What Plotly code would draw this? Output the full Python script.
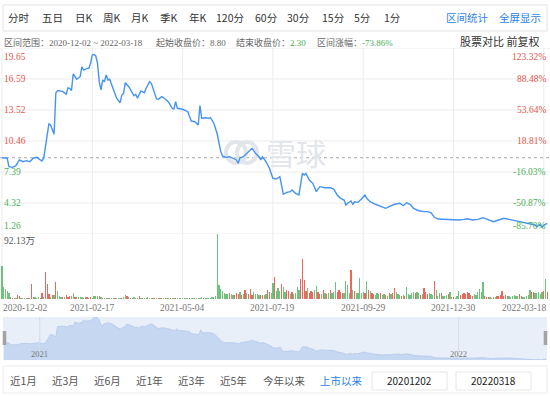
import plotly.graph_objects as go

W, H = 550, 396

# ---------------- data ----------------
close_day = [0, 3, 4, 6, 8, 10, 12, 14, 16, 18, 20, 22, 23, 24, 26, 27, 28, 29, 30, 31,
             32, 33, 35, 37, 38, 39, 40, 41, 43, 45, 46, 47, 49, 50, 51, 52, 53, 54, 55, 56,
             57, 58, 59, 60, 61, 62, 64, 66, 68, 69, 70, 71, 73, 75, 76, 77, 78, 80, 82, 83,
             85, 86, 89, 90, 92, 94, 96, 98, 99, 100, 101, 104, 105, 107, 109, 111, 113, 114, 115, 117,
             119, 120, 122, 124, 125, 126, 127, 129, 131, 133, 135, 136, 137, 139, 141, 143, 144, 146, 148, 149,
             150, 152, 153, 154, 156, 158, 160, 161, 162, 164, 166, 167, 169, 171, 172, 173, 174, 175, 177, 179,
             181, 183, 186, 189, 191, 193, 195, 197, 198, 199, 201, 202, 203, 205, 207, 209, 210, 212, 215, 218,
             221, 223, 226, 229, 231, 233, 235, 237, 240, 243, 245, 247, 249, 251, 255, 259, 263, 266, 268, 271,
             274, 277, 280, 283, 286, 289, 292, 294, 297, 300, 303, 305, 307, 308, 310, 311, 312, 314]
close_val = [8.80, 8.75, 7.91, 7.85, 8.01, 8.58, 8.41, 8.51, 8.41, 8.75, 8.84, 8.58, 8.48, 8.75, 11.22, 12.14, 12.04, 11.60, 11.12, 15.20,
             15.43, 15.43, 15.33, 15.10, 15.72, 15.67, 15.43, 17.08, 16.56, 16.81, 17.80, 17.47, 17.64, 17.64, 18.14, 18.96, 19.00, 18.86, 18.14, 16.32,
             15.50, 16.49, 16.32, 16.98, 16.49, 16.56, 15.67, 14.68, 14.24, 15.00, 15.17, 16.22, 15.82, 15.17, 14.93, 15.07, 14.68, 15.40, 15.23, 15.67,
             16.32, 16.16, 14.61, 14.58, 14.84, 14.61, 14.28, 13.69, 13.62, 14.34, 13.69, 13.59, 13.52, 13.35, 12.43, 12.36, 12.04, 13.95, 12.70, 12.76,
             12.70, 12.76, 12.21, 11.12, 10.23, 9.40, 8.97, 8.84, 8.90, 8.75, 8.58, 8.25, 8.80, 8.90, 9.24, 9.63, 9.73, 9.24, 8.90, 8.58,
             8.90, 8.41, 8.08, 7.76, 6.77, 6.70, 6.93, 5.94, 5.19, 5.38, 5.44, 5.61, 5.28, 5.12, 6.10, 7.26, 7.09, 7.26, 6.60, 6.27,
             5.44, 5.94, 5.84, 5.84, 5.71, 5.12, 4.79, 4.62, 4.13, 4.30, 4.52, 4.20, 4.45, 4.39, 4.72, 5.12, 4.79, 4.45, 4.20, 3.96,
             3.80, 3.96, 4.20, 4.30, 4.06, 4.35, 4.20, 3.80, 3.56, 3.47, 3.47, 3.37, 2.91, 2.74, 2.71, 2.64, 2.64, 2.71, 2.77, 2.64,
             2.71, 2.87, 2.64, 2.48, 2.64, 2.81, 2.71, 2.64, 2.48, 2.38, 2.32, 2.22, 2.15, 1.98, 2.22, 1.92, 2.15, 2.30]

# volume in 万 per trading day, with direction (r = up, g = down)
vol = [47, 17, 14, 12, 8.5, 3.8, 2.4, 2.4, 2, 5.7, 4.7, 2, 2, 2, 2, 2.5, 2, 21, 3.8, 3.8,
       2, 3.8, 2, 8.5, 3.8, 39, 22, 7.5, 3.8, 6, 6, 25, 12, 4.7, 3.5, 3.5, 3.3, 6, 3.8, 5.2,
       4.7, 8.5, 3.8, 3.5, 3, 3.8, 3, 2.5, 3.8, 3, 2.5, 3.8, 2.5, 4.2, 4.7, 4.2, 4, 3.5, 2.5, 2.5,
       2.5, 2, 2, 2.5, 2, 2.5, 2, 2.5, 2, 2.4, 3.8, 5.7, 4.7, 3, 2.5, 2.5, 3.8, 2.5, 2, 4.2,
       2.5, 2, 2, 2.5, 3.3, 2, 2, 2, 2, 2.5, 2, 2, 2, 2, 2, 2, 2, 2, 2, 2,
       2, 2, 2, 2, 2, 1.5, 1.5, 2, 1.5, 2, 1.5, 2, 2, 2, 2.5, 3.8, 2, 2, 2, 2,
       2.5, 3, 3.8, 5.2, 92.13, 20, 14, 12, 9.5, 8, 7.5, 8.5, 7.5, 6, 6, 8.5, 7, 11, 6, 7,
       13, 8.5, 7, 14, 6, 10, 7.5, 7, 6, 6, 5.7, 6, 7, 13, 10, 9, 23, 31, 12, 16,
       12, 21, 18, 10, 13, 12, 7.5, 11, 8, 8.5, 17, 13, 29, 57, 27, 12, 15.6, 8.5, 12, 10,
       13, 19, 11, 8, 7, 13, 8.5, 7, 9, 13, 9.5, 11, 25, 10, 13, 11, 8.5, 9, 26, 20,
       8.5, 42, 13, 12, 9, 8.5, 30, 8.5, 11, 9, 26, 13, 12, 9, 7.5, 6, 9.5, 8, 8.5, 6,
       7.5, 6, 5.2, 8.5, 7.5, 9.5, 15.6, 11, 7, 6, 5.2, 6, 5.2, 18, 7.5, 6, 8.5, 11, 9.5, 10,
       8.5, 6, 7, 16.5, 11, 7.5, 8.5, 7.5, 6, 26, 13, 5.2, 9.5, 8.5, 5.2, 5, 6, 7.5, 10, 3.8,
       3.8, 2.4, 4, 11.8, 6, 7.5, 8.5, 7, 10, 8.5, 6, 5.2, 7, 6, 10, 14.6, 10.8, 25, 4.7, 3.8,
       3.3, 3, 2.4, 3.3, 3.8, 4, 5.2, 6, 11.8, 5.2, 6, 5, 4.7, 3.8, 4.7, 6, 5, 5.2, 7, 5.2,
       3.8, 3.8, 5.2, 6, 13, 11, 10, 8.5, 9.5, 10, 8, 11, 11.8, 28, 11]
vol_dir = ("gggggrrggrrgrggrgrrg" "ggrrgrrrgrgrgggrgrrr" "ggrggggrgrrrggggrgrg"
           "ggrggrgggrggrgrrggrr" "grgrgggrgrgrggrggrgg" "rggrggggrgggrgggrrgg"
           "gggggggggggrggrrrgrg" "rgrrrggggrrggrrggrgg" "grggrrgrggggrrrrgrrr"
           "ggrrgrgrgrggg" "rrrrggggrg" "rgggggrgrgrrgggrggrg"
           "rgrrgggrgrgggggrggrg" "rrrgggrgggrgggrggrgg" "grrrrrrrrggggggrrrgg"
           "ggrrrrrrrggggggrrggg" "ggrrgggggrgrgrg")

date_ticks = ['2020-12-02', '2021-02-17', '2021-05-04', '2021-07-19', '2021-09-29', '2021-12-30', '2022-03-18']
tick_day = [0, 52, 104, 156, 208, 260, 312]
price_ticks = [19.65, 16.59, 13.52, 10.46, 7.39, 4.32, 1.26]
pct_ticks = ['123.32%', '88.48%', '53.64%', '18.81%', '-16.03%', '-50.87%', '-85.70%']
start_close = 8.80
end_close = 2.30
change_pct = '-73.86%'
vol_max = 92.13
nav_years = ['2021', '2022']
nav_year_day = [20.7, 263.4]
periods = ['分时', '五日', '日K', '周K', '月K', '季K', '年K', '120分', '60分', '30分', '15分', '5分', '1分']
ranges = ['近1月', '近3月', '近6月', '近1年', '近3年', '近5年', '今年以来', '上市以来']

# ---------------- styles ----------------
RED = '#e4574c'
GREEN = '#4caf5a'
BLUE = '#2a7fe6'
LINE = '#4593f4'
GRID = '#ececec'
SERIF = 'Liberation Serif, Noto Sans CJK SC'
SANS = 'Noto Sans CJK SC, Noto Sans, sans-serif'

def py(y):
    return 1 - y / H

def ann(text, x, y, size, color, family=SANS, xanchor='left', yanchor='middle'):
    return dict(text=text, x=x / W, y=py(y), xref='paper', yref='paper', showarrow=False,
                font=dict(size=size, color=color, family=family), xanchor=xanchor, yanchor=yanchor,
                borderpad=0)

n = len(vol)
vcol = ['rgba(236,90,78,0.92)' if vol_dir[i] == 'r' else 'rgba(96,190,112,0.92)' for i in range(n)]

fig = go.Figure()
fig.add_trace(go.Bar(x=list(range(n)), y=vol, marker=dict(color=vcol, line=dict(width=0)),
                     width=0.72, xaxis='x', yaxis='y2', hoverinfo='skip'))
fig.add_trace(go.Scatter(x=close_day, y=close_val, mode='lines', line=dict(color=LINE, width=1.4),
                         xaxis='x', yaxis='y', hoverinfo='skip'))
fig.add_trace(go.Scatter(x=close_day, y=close_val, mode='lines', fill='tozeroy',
                         fillcolor='rgba(196,213,240,0.95)', line=dict(color='#b4c8e8', width=0.8),
                         xaxis='x3', yaxis='y3', hoverinfo='skip'))

shapes = []
# toolbar box
shapes.append(dict(type='rect', xref='paper', yref='paper', x0=3 / W, x1=547 / W, y0=py(31), y1=py(5),
                   line=dict(color='#e3e3e3', width=1), fillcolor='white', layer='below'))
# nav background
shapes.append(dict(type='rect', xref='paper', yref='paper', x0=3 / W, x1=547 / W, y0=py(360), y1=py(317),
                   line=dict(width=0), fillcolor='#e8eff9', layer='below'))
for d in nav_year_day:
    shapes.append(dict(type='line', xref='x3', yref='paper', x0=d, x1=d, y0=py(360), y1=py(317),
                       line=dict(color='#d3dcea', width=1), layer='above'))
# nav handles
for hx in (4.5, 545.5):
    shapes.append(dict(type='rect', xref='paper', yref='paper', x0=(hx - 1.8) / W, x1=(hx + 1.8) / W,
                       y0=py(345), y1=py(331), line=dict(width=0), fillcolor='#a3a3a3'))
# bottom bar
shapes.append(dict(type='rect', xref='paper', yref='paper', x0=3 / W, x1=547 / W, y0=py(393), y1=py(366),
                   line=dict(color='#ececec', width=1), fillcolor='white', layer='below'))
for bx0, bx1 in ((372, 447), (456, 531)):
    shapes.append(dict(type='rect', xref='paper', yref='paper', x0=bx0 / W, x1=bx1 / W, y0=py(390), y1=py(372),
                       line=dict(color='#e6e6e6', width=1), fillcolor='white', layer='below'))
# grid
for d in tick_day:
    shapes.append(dict(type='line', xref='x', yref='paper', x0=d, x1=d, y0=py(299), y1=py(48),
                       line=dict(color=GRID, width=1), layer='below'))
for p in price_ticks:
    shapes.append(dict(type='line', xref='paper', yref='y', x0=0, x1=1, y0=p, y1=p,
                       line=dict(color=GRID, width=1), layer='below'))
shapes.append(dict(type='line', xref='paper', yref='y', x0=0, x1=1, y0=start_close, y1=start_close,
                   line=dict(color='#a8a8a8', width=1, dash='dot'), layer='below'))
# watermark icon
for cx in (236, 247):
    shapes.append(dict(type='circle', xref='paper', yref='paper', x0=(cx - 10) / W, x1=(cx + 10) / W,
                       y0=py(163), y1=py(142), line=dict(color='#e2e5ea', width=4), layer='below'))

anns = []
# toolbar
tool_x = [18.5, 52.5, 84, 111.5, 140, 168.5, 197.5, 229.5, 266.5, 299, 333.5, 362.5, 392]
for t, x in zip(periods, tool_x):
    anns.append(ann(t, x, 18, 10.5, '#333333', xanchor='center'))
anns.append(ann('区间统计', 467, 18, 10.5, BLUE, xanchor='center'))
anns.append(ann('全屏显示', 520, 18, 10.5, BLUE, xanchor='center'))
# info line
anns.append(ann('区间范围：%s ~ %s' % (date_ticks[0], date_ticks[-1]), 3, 42, 9, '#666666', SERIF))
anns.append(ann('起始收盘价：%.2f' % start_close, 155, 42, 9, '#666666', SERIF))
anns.append(ann("结束收盘价：<span style='color:%s'>%.2f</span>" % (GREEN, end_close), 235, 42, 9, '#666666', SERIF))
anns.append(ann("区间涨幅：<span style='color:%s'>%s</span>" % (GREEN, change_pct), 315.5, 42, 9, '#666666', SERIF))
anns.append(ann('股票对比 前复权', 540, 41, 11, '#333333', xanchor='right'))
# y labels
for i, (p, pc) in enumerate(zip(price_ticks, pct_ticks)):
    col = RED if p > start_close else GREEN
    if i == 0:
        ya, sh = 'top', -3
    elif i == len(price_ticks) - 1:
        ya, sh = 'bottom', 2
    else:
        ya, sh = 'middle', 0
    anns.append(dict(text='%.2f' % p, x=3 / W, xref='paper', y=p, yref='y', showarrow=False, xanchor='left',
                     yanchor=ya, yshift=sh, font=dict(size=9.5, color=col, family=SERIF), borderpad=0))
    anns.append(dict(text=pc, x=547 / W, xref='paper', y=p, yref='y', showarrow=False, xanchor='right',
                     yanchor=ya, yshift=sh, font=dict(size=9.5, color=col, family=SERIF), borderpad=0))
anns.append(ann('%.2f万' % vol_max, 3, 241, 9.5, '#555555', SERIF))
# date labels
for i, (d, t) in enumerate(zip(tick_day, date_ticks)):
    xa = 'left' if i == 0 else ('right' if i == len(tick_day) - 1 else 'center')
    anns.append(dict(text=t, x=d, xref='x', y=py(308), yref='paper', showarrow=False, xanchor=xa,
                     yanchor='middle', xshift=(0 if i == 0 else (4 if xa == 'right' else 0)),
                     font=dict(size=9.5, color='#777777', family=SERIF), borderpad=0))
# nav years
for d, t in zip(nav_year_day, nav_years):
    anns.append(dict(text=t, x=d, xref='x3', y=py(354), yref='paper', showarrow=False, xanchor='center',
                     yanchor='middle', font=dict(size=8.5, color='#777777', family=SERIF), borderpad=0))
# bottom bar
range_x = [23.5, 65.5, 107.5, 149.5, 191.5, 233.5, 284, 341.5]
for t, x in zip(ranges, range_x):
    anns.append(ann(t, x, 380, 10.5, BLUE if t == '上市以来' else '#555555', xanchor='center'))
anns.append(ann(date_ticks[0].replace('-', ''), 409.5, 380.5, 10, '#222222', xanchor='center'))
anns.append(ann(date_ticks[-1].replace('-', ''), 493.5, 380.5, 10, '#222222', xanchor='center'))
# watermark text
anns.append(ann('雪球', 296, 152, 30, '#e2e5ea', xanchor='center'))

x0px = 2.0
per = 1.7365
xr = [-x0px / per, (W - x0px) / per]

fig.update_layout(
    width=W, height=H, margin=dict(l=0, r=0, t=0, b=0),
    paper_bgcolor='white', plot_bgcolor='rgba(0,0,0,0)', showlegend=False, bargap=0,
    xaxis=dict(domain=[0, 1], range=xr, showgrid=False, zeroline=False, showticklabels=False,
               anchor='y2', fixedrange=True),
    yaxis=dict(domain=[py(234), py(48)], range=[price_ticks[-1], price_ticks[0]], showgrid=False,
               zeroline=False, showticklabels=False, anchor='x'),
    yaxis2=dict(domain=[py(299.3), py(234)], range=[0, vol_max], showgrid=False, zeroline=False,
                showticklabels=False, anchor='x'),
    xaxis3=dict(domain=[4 / W, 546 / W], range=[0, n - 1], showgrid=False, zeroline=False,
                showticklabels=False, anchor='y3'),
    yaxis3=dict(domain=[py(360), py(317)], range=[1.9, 19.1], showgrid=False, zeroline=False,
                showticklabels=False, anchor='x3'),
    shapes=shapes, annotations=anns,
)

fig.write_html('out.html', config={'displayModeBar': False},
               post_script="document.body.style.margin='0';document.body.style.overflow='hidden';")
